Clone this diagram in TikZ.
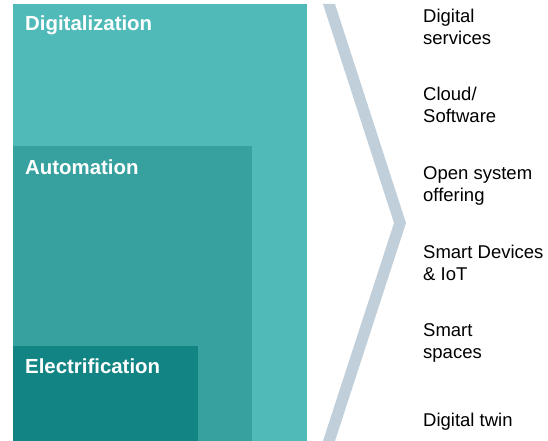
\documentclass[tikz,border=0pt]{standalone}
\usepackage{fontspec}
\setmainfont{Liberation Sans}
\definecolor{digicol}{HTML}{50BAB9}
\definecolor{autocol}{HTML}{37A19F}
\definecolor{eleccol}{HTML}{138484}
\definecolor{chevcol}{HTML}{C0CFDA}
\begin{document}
\begin{tikzpicture}[x=1pt,y=-1pt,
  layer/.style={anchor=base west,inner sep=0pt,white,font=\fontsize{20.4}{24}\selectfont\bfseries},
  item/.style={anchor=base west,inner sep=0pt,align=left,font=\fontsize{18.5}{22}\selectfont}]
\useasboundingbox (0,0) rectangle (548,441);

%
% nested layers
%
\fill[digicol] (13,4) rectangle (307,441);
\fill[autocol] (13,146) rectangle (252,441);
\fill[eleccol] (13,346) rectangle (198,441);

\node[layer] (digilabel) at (25,31) {Digitalization};
\node[layer] (autolabel) at (25,174) {Automation};
\node[layer] (eleclabel) at (25,373) {Electrification};

% chevron
\fill[chevcol] (323,4) -- (335,4) -- (406,223) -- (335,441) -- (323,441) -- (394,223) -- cycle;

%
% offerings (anchor is baseline of last line)
%
\node[item] (services) at (423,44.5) {Digital\\services};
\node[item] (cloud) at (423,122.5) {Cloud/\\Software};
\node[item] (opensys) at (423,201) {Open system\\offering};
\node[item] (devices) at (423,280) {Smart Devices\\\& IoT};
\node[item] (spaces) at (423,358.5) {Smart\\spaces};
\node[item] (twin) at (423,426) {Digital twin};

\end{tikzpicture}
\end{document}
